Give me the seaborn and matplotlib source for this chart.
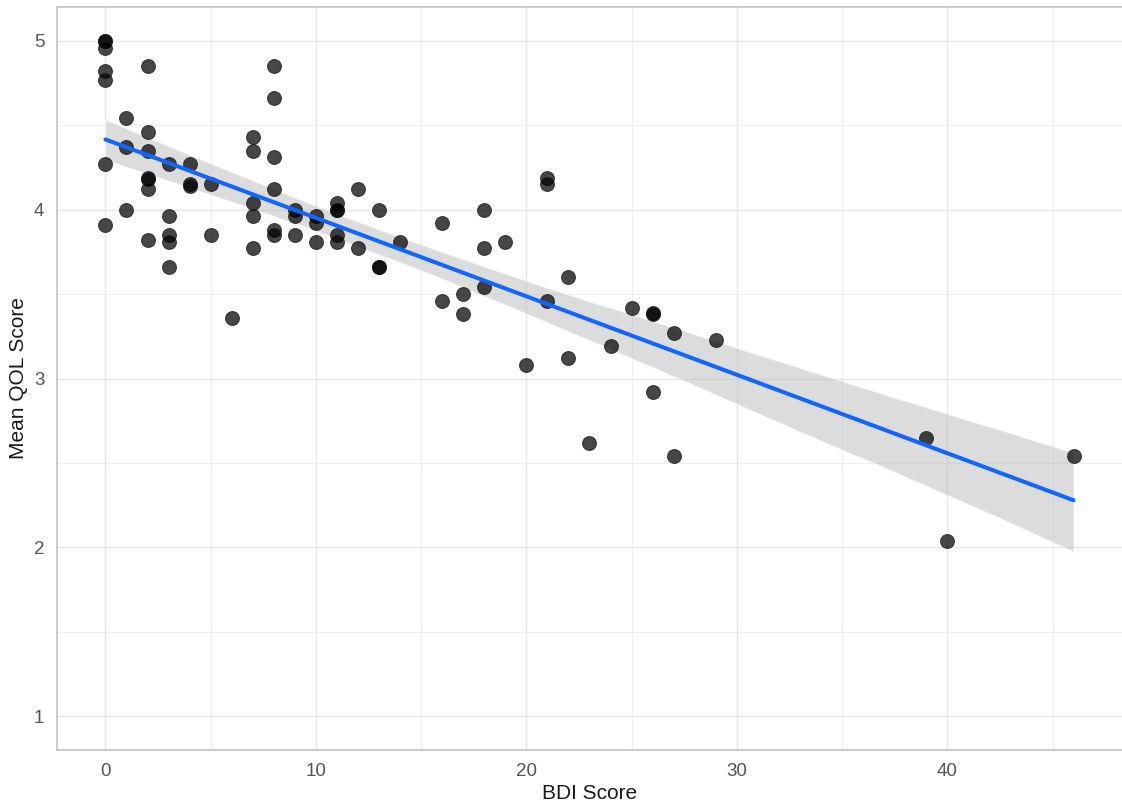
import numpy as np
import pandas as pd
import matplotlib
matplotlib.use("Agg")
import matplotlib.pyplot as plt
import seaborn as sns
from matplotlib.ticker import MultipleLocator

# BDI score vs mean QOL score
bdi = [0, 0, 0, 0, 0, 0, 0,
       1, 1, 1,
       2, 2, 2, 2, 2, 2, 2,
       3, 3, 3, 3, 3,
       4, 4, 4,
       5, 5,
       6,
       7, 7, 7, 7, 7,
       8, 8, 8, 8, 8, 8,
       9, 9, 9,
       10, 10, 10,
       11, 11, 11, 11, 11,
       12, 12,
       13, 13, 13,
       14,
       16, 16,
       17, 17,
       18, 18, 18,
       19,
       20,
       21, 21, 21,
       22, 22,
       23, 24, 25,
       26, 26, 26,
       27, 27,
       29, 39, 40, 46]
qol = [5.0, 5.0, 4.96, 4.82, 4.77, 4.27, 3.91,
       4.54, 4.37, 4.0,
       4.85, 4.46, 4.35, 4.19, 4.18, 4.12, 3.82,
       4.27, 3.96, 3.85, 3.81, 3.66,
       4.27, 4.15, 4.14,
       4.15, 3.85,
       3.36,
       4.43, 4.35, 4.04, 3.96, 3.77,
       4.85, 4.66, 4.31, 4.12, 3.88, 3.85,
       4.0, 3.96, 3.85,
       3.96, 3.92, 3.81,
       4.04, 4.0, 4.0, 3.85, 3.81,
       4.12, 3.77,
       4.0, 3.66, 3.66,
       3.81,
       3.92, 3.46,
       3.5, 3.38,
       4.0, 3.77, 3.54,
       3.81,
       3.08,
       4.19, 4.15, 3.46,
       3.6, 3.12,
       2.62, 3.19, 3.42,
       3.39, 3.38, 2.92,
       3.27, 2.54,
       3.23, 2.65, 2.04, 2.54]

df = pd.DataFrame({"BDI": bdi, "QOL": qol})

sns.set_style("white")
plt.rcParams['font.family'] = ['Liberation Sans', 'DejaVu Sans']

fig = plt.figure(figsize=(11.22, 8.05), dpi=100)
ax = fig.add_axes([0.0508, 0.0683, 0.9492, 0.923])

sns.scatterplot(data=df, x="BDI", y="QOL", ax=ax, s=100, color="black",
                alpha=0.72, edgecolor="#1a1a1a", linewidth=0.8, zorder=2)
sns.regplot(data=df, x="BDI", y="QOL", ax=ax, scatter=False, ci=95, seed=1,
            n_boot=2000, color="#1166ff", line_kws={"linewidth": 2.9, "zorder": 4})
# grey confidence band like ggplot
band = ax.collections[-1]
band.set_facecolor("#b3b3b3")
band.set_alpha(0.45)
band.set_zorder(1)

ax.set_xlim(-2.3, 48.3)
ax.set_ylim(0.8, 5.2)
ax.xaxis.set_major_locator(MultipleLocator(10))
ax.xaxis.set_minor_locator(MultipleLocator(5))
ax.yaxis.set_major_locator(MultipleLocator(1))
ax.yaxis.set_minor_locator(MultipleLocator(0.5))
ax.grid(True, which="major", color="#e6e6e6", linewidth=1.0, zorder=0)
ax.grid(True, which="minor", color="#efefef", linewidth=0.8, zorder=0)
ax.set_axisbelow(True)

for side in ["left", "bottom", "top"]:
    ax.spines[side].set_visible(True)
    ax.spines[side].set_color("#c4c4c4")
    ax.spines[side].set_linewidth(1.2)
ax.spines["right"].set_visible(False)

ax.tick_params(axis="both", which="major", length=5, width=1, color="#c4c4c4",
               labelsize=13.5, labelcolor="#555555", pad=4)
ax.tick_params(axis="both", which="minor", length=0)

ax.set_xlabel("BDI Score", fontsize=15, color="#1a1a1a", labelpad=3)
ax.set_ylabel("Mean QOL Score", fontsize=15, color="#1a1a1a", labelpad=4)

fig.savefig("out.png", dpi=100)
